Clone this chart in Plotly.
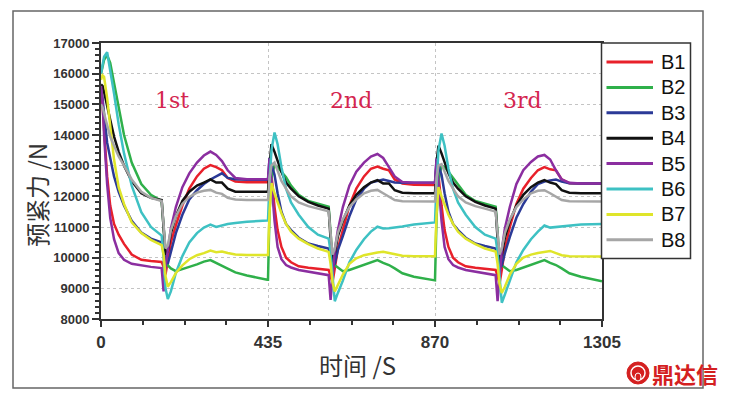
import plotly.graph_objects as go

# ---------------- data ----------------
time_s = [0, 4, 8, 16, 24, 34, 46, 60, 80, 105, 130, 158, 163, 168, 174, 182, 195, 212, 230, 250, 268, 285, 300, 315, 330, 350, 380, 433,
          435, 439, 444, 452, 460, 470, 482, 495, 515, 540, 565, 593, 598, 603, 609, 617, 630, 647, 665, 685, 703, 720, 735, 750, 765, 785, 815, 868,
          870, 874, 879, 887, 895, 905, 917, 930, 950, 975, 1000, 1028, 1033, 1038, 1044, 1052, 1065, 1082, 1100, 1120, 1138, 1155, 1170, 1185, 1200, 1220, 1250, 1305]

B1 = [15300, 15000, 14200, 12650, 11700, 11100, 10750, 10450, 10100, 9930, 9890, 9860, 9700, 9450, 9900, 10500, 11050, 11700, 12250, 12650, 12900, 13020, 12950, 12850, 12600, 12480, 12460, 12460,
      12460, 12600, 12700, 11650, 10900, 10350, 10000, 9850, 9720, 9670, 9630, 9600, 9400, 9200, 9650, 10300, 10900, 11700, 12250, 12650, 12900, 12970, 12900, 12850, 12550, 12420, 12380, 12370,
      12370, 12550, 12700, 11700, 10900, 10350, 10000, 9850, 9720, 9670, 9630, 9600, 9400, 9150, 9600, 10300, 11000, 11750, 12250, 12600, 12850, 12950, 12880, 12850, 12550, 12430, 12420, 12420]

B2 = [16000, 16250, 16450, 16600, 16350, 15700, 14900, 14000, 13100, 12400, 12050, 11850, 11000, 10200, 9750, 9650, 9560, 9620, 9700, 9780, 9870, 9920, 9820, 9740, 9640, 9520, 9420, 9280,
      9280, 11500, 12600, 13020, 12950, 12800, 12620, 12350, 12050, 11850, 11750, 11660, 10800, 10000, 9750, 9680, 9560, 9600, 9680, 9760, 9860, 9920, 9830, 9760, 9650, 9490, 9380, 9260,
      9260, 11300, 12500, 13000, 12950, 12800, 12600, 12350, 12050, 11850, 11750, 11660, 10800, 10000, 9750, 9680, 9560, 9600, 9680, 9760, 9860, 9920, 9830, 9760, 9650, 9490, 9380, 9230]

B3 = [15500, 15200, 14700, 13750, 13250, 12650, 12150, 11700, 11200, 10820, 10620, 10500, 10200, 9900, 9800, 10200, 10800, 11400, 11900, 12200, 12400, 12550, 12650, 12750, 12600, 12560, 12540, 12540,
      12540, 13250, 13000, 12700, 12100, 11500, 11100, 10900, 10650, 10460, 10380, 10300, 10000, 9700, 9800, 10250, 10700, 11350, 11900, 12250, 12450, 12500, 12550, 12500, 12450, 12440, 12440, 12440,
      12440, 13200, 13000, 12700, 12100, 11500, 11100, 10900, 10650, 10460, 10380, 10300, 10000, 9650, 9750, 10150, 10680, 11300, 11750, 12150, 12400, 12480, 12520, 12550, 12480, 12430, 12420, 12420]

B4 = [15650, 15600, 15400, 15000, 14500, 13950, 13450, 13000, 12500, 12100, 11950, 11880, 11000, 10100, 10200, 10800, 11350, 11850, 12150, 12350, 12450, 12550, 12450, 12450, 12250, 12150, 12150, 12150,
      12150, 13000, 13700, 13450, 13150, 12800, 12450, 12250, 12000, 11820, 11700, 11600, 10600, 9850, 10150, 10700, 11200, 11700, 12050, 12300, 12450, 12530, 12420, 12420, 12200, 12120, 12100, 12100,
      12100, 13100, 13650, 13400, 13100, 12750, 12450, 12250, 12000, 11820, 11700, 11600, 10600, 9800, 10100, 10650, 11200, 11700, 12050, 12300, 12450, 12530, 12450, 12400, 12200, 12120, 12100, 12100]

B5 = [15600, 15100, 14000, 12400, 11300, 10600, 10150, 9930, 9800, 9740, 9700, 9660, 8900, 9700, 10300, 10950, 11650, 12300, 12750, 13100, 13330, 13460, 13350, 13150, 12850, 12600, 12560, 12560,
      12560, 13240, 12400, 11200, 10350, 9950, 9760, 9680, 9600, 9540, 9480, 9430, 8620, 9400, 10250, 10900, 11650, 12350, 12800, 13100, 13300, 13380, 13250, 12950, 12650, 12470, 12440, 12440,
      12440, 13230, 12400, 11200, 10350, 9950, 9760, 9680, 9600, 9540, 9480, 9430, 8580, 9400, 10250, 10950, 11660, 12400, 12850, 13120, 13300, 13350, 13200, 12850, 12550, 12440, 12420, 12420]

B6 = [16000, 16300, 16550, 16700, 16150, 15350, 14350, 13400, 12350, 11480, 11000, 10720, 10000, 9000, 8650, 8900, 9500, 10050, 10500, 10800, 10980, 11080, 11000, 11060, 11100, 11130, 11170, 11210,
      11210, 12500, 13500, 14080, 13700, 12950, 12250, 11800, 11400, 11000, 10750, 10620, 10200, 9400, 8580, 8850, 9250, 9850, 10250, 10600, 10850, 11010, 10950, 10960, 10980, 11020, 11080, 11150,
      11150, 12400, 13500, 14050, 13650, 12900, 12250, 11800, 11400, 11000, 10750, 10620, 10200, 9400, 8530, 8800, 9250, 9850, 10250, 10600, 10850, 11050, 10980, 11000, 11020, 11060, 11080, 11100]

B7 = [15800, 15950, 15900, 15200, 14300, 13200, 12300, 11750, 11150, 10800, 10580, 10410, 10100, 9400, 9050, 9200, 9500, 9750, 9950, 10080, 10150, 10230, 10180, 10200, 10150, 10100, 10090, 10090,
      10090, 11500, 12430, 12100, 11800, 11450, 11100, 10850, 10620, 10440, 10300, 10190, 9800, 9200, 8900, 9100, 9450, 9800, 9980, 10080, 10130, 10170, 10190, 10150, 10100, 10060, 10050, 10050,
      10050, 11400, 12300, 12000, 11750, 11400, 11100, 10850, 10620, 10440, 10300, 10200, 9800, 9150, 8850, 9050, 9450, 9800, 10000, 10100, 10150, 10200, 10220, 10150, 10080, 10050, 10050, 10040]

B8 = [15000, 14900, 14700, 14300, 13950, 13650, 13300, 13000, 12550, 12150, 11950, 11850, 11200, 10300, 10400, 10900, 11350, 11750, 11980, 12120, 12180, 12210, 12120, 12080, 11950, 11900, 11880, 11880,
      11880, 12600, 13000, 13100, 12800, 12500, 12250, 12000, 11800, 11680, 11600, 11510, 10800, 10100, 10300, 10800, 11250, 11650, 11900, 12100, 12180, 12210, 12100, 12000, 11880, 11840, 11830, 11830,
      11830, 12600, 13000, 13050, 12800, 12500, 12250, 12000, 11800, 11680, 11600, 11500, 10800, 10100, 10300, 10800, 11250, 11650, 11900, 12100, 12180, 12200, 12100, 12000, 11880, 11840, 11830, 11830]

series_names = ["B1", "B2", "B3", "B4", "B5", "B6", "B7", "B8"]
series_values = [B1, B2, B3, B4, B5, B6, B7, B8]
series_colors = ["#e8202a", "#2fb04a", "#2b3a97", "#111111", "#8b2ea0", "#3ec1c3", "#dfe52a", "#a6a6a6"]

x_ticks = [0, 435, 870, 1305]
cycle_labels = ["1st", "2nd", "3rd"]
cycle_label_x = [184, 651, 1097]
cycle_label_y = 15110

# ---------------- layout geometry (page has an 8px body margin) ----------------
OFF = 8
W, H = 729 - OFF, 398 - OFF
L, R, T, B = 93, 127, 35, 79
pw, ph = W - L - R, H - T - B


def px(xr):
    """reference-window pixel x -> paper x"""
    return (xr - OFF - L) / pw


def py(yr):
    """reference-window pixel y -> paper y"""
    return (H - B - (yr - OFF)) / ph


fig = go.Figure()
for name, vals, col in zip(series_names, series_values, series_colors):
    fig.add_trace(go.Scatter(x=time_s, y=vals, mode="lines", name=name,
                             line=dict(color=col, width=2.5), showlegend=False))

for lab, lx in zip(cycle_labels, cycle_label_x):
    fig.add_annotation(x=lx, y=cycle_label_y, xref="x", yref="y", text=lab, showarrow=False,
                       xanchor="center", yanchor="middle",
                       font=dict(family="DejaVu Serif", size=22, color="#d4254f"))

fig.add_annotation(x=px(36), y=py(195), xref="paper", yref="paper", text="预紧力 /N",
                   textangle=-90, showarrow=False, xanchor="center", yanchor="middle",
                   font=dict(family="Noto Sans CJK SC", size=24, color="#333333"))
fig.add_annotation(x=px(357), y=py(364), xref="paper", yref="paper", text="时间 /S",
                   showarrow=False, xanchor="center", yanchor="middle",
                   font=dict(family="Noto Sans CJK SC", size=24, color="#333333"))

# ---- legend box (drawn by hand to match spacing) ----
fig.add_shape(type="rect", xref="paper", yref="paper", x0=px(601.5), x1=px(690.5), y0=py(258.5), y1=py(43),
              fillcolor="white", line=dict(color="#333333", width=1.5), layer="above")
for i, (name, col) in enumerate(zip(series_names, series_colors)):
    yy = 62 + 25.4 * i
    fig.add_shape(type="line", xref="paper", yref="paper", x0=px(606.5), x1=px(653), y0=py(yy), y1=py(yy),
                  line=dict(color=col, width=3), layer="above")
    fig.add_annotation(x=px(658.5), y=py(yy), xref="paper", yref="paper", text=name, showarrow=False,
                       xanchor="left", yanchor="middle",
                       font=dict(family="Liberation Sans, Arial", size=20, color="#111111"))

# ---- watermark ----
fig.add_annotation(x=px(685), y=py(373), xref="paper", yref="paper", text="<b>鼎达信</b>",
                   showarrow=False, xanchor="center", yanchor="middle",
                   font=dict(family="Noto Sans CJK SC", size=22, color="#d42020"))
fig.add_shape(type="circle", xref="paper", yref="paper", x0=px(627), x1=px(649), y0=py(384), y1=py(362),
              fillcolor="#d42020", line=dict(color="#d42020", width=1), layer="above")
fig.add_shape(type="circle", xref="paper", yref="paper", x0=px(631), x1=px(645), y0=py(380), y1=py(366),
              fillcolor="rgba(0,0,0,0)", line=dict(color="white", width=1.5), layer="above")
fig.add_shape(type="circle", xref="paper", yref="paper", x0=px(635), x1=px(641), y0=py(381), y1=py(373),
              fillcolor="#d42020", line=dict(color="white", width=1), layer="above")

# ---- outer frame ----
fig.add_shape(type="rect", xref="paper", yref="paper", x0=px(13), x1=px(703), y0=py(388), y1=py(11),
              line=dict(color="#666666", width=1.5), layer="below")

tickfont = dict(family="Liberation Sans, Arial", color="#333333", weight="bold")
fig.update_xaxes(range=[0, 1305], tickmode="array", tickvals=x_ticks,
                 ticks="outside", ticklen=6, tickwidth=1.5, tickcolor="#333333",
                 minor=dict(dtick=108.75, tick0=0, ticks="outside", ticklen=4, tickcolor="#333333", showgrid=False),
                 showgrid=True, gridcolor="#c4c4c4", griddash="dot", gridwidth=1,
                 showline=True, linecolor="#333333", linewidth=2, mirror=True, zeroline=False,
                 tickfont=dict(size=17, **tickfont), ticklabelstandoff=1)
fig.update_yaxes(range=[8000, 17000], dtick=1000, tick0=8000, tickformat="d",
                 ticks="outside", ticklen=7, tickwidth=1.5, tickcolor="#333333",
                 minor=dict(dtick=200, ticks="outside", ticklen=4, tickcolor="#333333", showgrid=False),
                 showgrid=True, gridcolor="#c4c4c4", griddash="dot", gridwidth=1,
                 showline=True, linecolor="#333333", linewidth=2, mirror=True, zeroline=False,
                 tickfont=dict(size=13, **tickfont))

fig.update_layout(width=W, height=H, margin=dict(l=L, r=R, t=T, b=B, autoexpand=False),
                  paper_bgcolor="white", plot_bgcolor="white", showlegend=False)

fig.write_html("out.html")
